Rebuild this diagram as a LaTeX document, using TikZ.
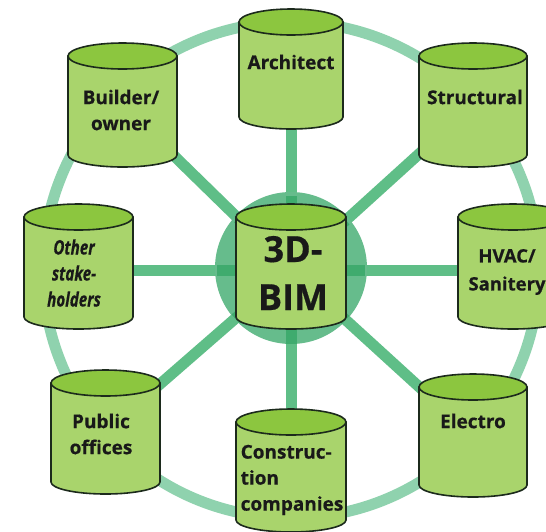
\documentclass[tikz,border=0pt]{standalone}
\usepackage{fontspec}
\usetikzlibrary{calc}
\setmainfont[BoldFeatures={FakeBold=0.5}]{Open Sans}
\newfontfamily\condit[FakeStretch=0.76,BoldItalicFeatures={FakeBold=0.5}]{Open Sans}
\definecolor{ringc}{HTML}{8FD2AE}
\definecolor{spokec}{HTML}{5FBE87}
\definecolor{hubc}{HTML}{66BC8C}
\definecolor{hubspoke}{HTML}{3FAB6E}
\definecolor{bodyc}{HTML}{A9D46C}
\definecolor{topc}{HTML}{8CC63F}
\definecolor{edgec}{HTML}{1C2A1C}
\tikzset{
  ring/.style={draw=ringc,line width=11pt},
  spoke/.style={draw=spokec,line width=11pt},
  cylbody/.style={fill=bodyc,draw=edgec,line width=1.6pt,line join=round},
  cyltop/.style={fill=topc,draw=edgec,line width=1.6pt},
  lab/.style={font=\bfseries\fontsize{19}{26}\selectfont,align=center,text=black!90,inner sep=0pt},
  hublab/.style={font=\bfseries\fontsize{36}{48}\selectfont,align=center,text=black!90,inner sep=0pt},
  itlab/.style={font=\condit\bfseries\itshape\fontsize{20}{26}\selectfont,align=center,text=black!90,inner sep=0pt}
}
% left, right, ellipse centre y, bottom y of the side wall
\newcommand{\cylshape}[4]{%
  \path[cylbody] (#1,#3) -- (#1,#4) arc[start angle=180,end angle=0,x radius={(#2-#1)/2},y radius=12] -- (#2,#3) -- cycle;
  \path[cyltop] ({(#1+#2)/2},#3) ellipse[x radius={(#2-#1)/2},y radius=13];
}
\begin{document}
\begin{tikzpicture}[x=1pt,y=-1pt]
\useasboundingbox (0,0) rectangle (546,531);
\fill[white] (0,0) rectangle (546,531);
\coordinate (hub) at (291,270);
\coordinate (a) at (291,70);
\coordinate (b) at (122,105);
\coordinate (c) at (473,105);
\coordinate (d) at (78,270);
\coordinate (e) at (512,270);
\coordinate (f) at (105,432);
\coordinate (g) at (473,436);
\coordinate (h) at (291,470);
\node[ring,circle,minimum size=496pt,inner sep=0pt] (outer) at (hub) {};
\foreach \t in {a,b,c,d,e,f,g,h} \draw[spoke] (hub) -- (\t);
\fill[hubc] (hub) ++(0,-2) circle[radius=76];
\foreach \s in {a,b,c,d,e,f,g,h} \draw[hubspoke,line width=11pt] (hub) -- ($(hub)!74pt!(\s)$);
\cylshape{239}{343}{22}{117}
\cylshape{68}{177}{56}{155}
\cylshape{419}{527}{56}{155}
\cylshape{24}{133}{217}{317}
\cylshape{458}{568}{217}{317}
\cylshape{51}{160}{383}{482}
\cylshape{419}{527}{387}{485}
\cylshape{236}{346}{422}{520}
\cylshape{236}{346}{217}{317}
\node[lab] (na) at (291,62) {Architect};
\node[lab] (nb) at (121,110) {Builder/\\owner};
\node[lab] (nc) at (475,97) {Structural};
\node[itlab] (nd) at (74,273) {Other\\stake-\\holders};
\node[lab,font=\bfseries\fontsize{18.5}{28}\selectfont] (ne) at (507,272) {HVAC/\\Sanitery};
\node[lab] (nf) at (101,434) {Public\\offices};
\node[lab] (ng) at (473,421) {Electro};
\node[lab,align=left] (nh) at (292,480) {Construc-\\tion\\companies};
\node[hublab] (nm) at (293,273) {3D-\\BIM};
\end{tikzpicture}
\end{document}
